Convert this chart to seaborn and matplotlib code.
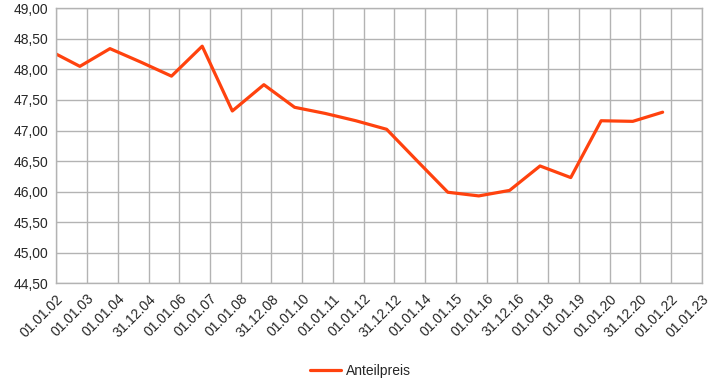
import pandas as pd
import numpy as np
import seaborn as sns
import matplotlib.pyplot as plt
import matplotlib.dates as mdates
from matplotlib.ticker import FuncFormatter

# data
dates = ['2002-01-01', '2002-10-08', '2003-10-01', '2004-10-01', '2005-10-01',
         '2006-10-01', '2007-09-24', '2008-10-03', '2009-10-03', '2010-10-01',
         '2011-10-01', '2012-10-01', '2013-10-01', '2014-09-28', '2015-10-01',
         '2016-10-01', '2017-09-28', '2018-09-28', '2019-09-24', '2020-10-04',
         '2021-09-24']
prices = [48.25, 48.05, 48.34, 48.12, 47.89, 48.38, 47.32, 47.75, 47.38, 47.28,
          47.16, 47.02, 46.50, 45.99, 45.93, 46.02, 46.42, 46.23, 47.16, 47.15,
          47.30]
tick_labels = ['01.01.02', '01.01.03', '01.01.04', '31.12.04', '01.01.06', '01.01.07',
               '01.01.08', '31.12.08', '01.01.10', '01.01.11', '01.01.12', '31.12.12',
               '01.01.14', '01.01.15', '01.01.16', '31.12.16', '01.01.18', '01.01.19',
               '01.01.20', '31.12.20', '01.01.22', '01.01.23']

df = pd.DataFrame({'Datum': pd.to_datetime(dates), 'Anteilpreis': prices})

sns.set_style('white')
plt.rcParams['font.family'] = ['Liberation Sans', 'DejaVu Sans']

fig = plt.figure(figsize=(7.21, 3.83), dpi=100)
ax = fig.add_axes([56.3 / 721, 1 - 283.3 / 383, (701.7 - 56.3) / 721, (283.3 - 8.3) / 383])

sns.lineplot(data=df, x='Datum', y='Anteilpreis', ax=ax, color='#ff420e',
             linewidth=2.3, label='Anteilpreis')

# date axis with 365.25 day steps like the original
start = mdates.date2num(pd.Timestamp('2002-01-01'))
ticks = start + np.arange(len(tick_labels)) * 365.25
ax.set_xticks(ticks)
ax.set_xticklabels(tick_labels, rotation=45, ha='right', rotation_mode='anchor', fontsize=10)
ax.set_xlim(ticks[0], ticks[-1])

ax.set_ylim(44.5, 49.0)
ax.set_yticks(np.arange(44.5, 49.01, 0.5))
ax.yaxis.set_major_formatter(FuncFormatter(lambda v, p: f"{v:.2f}".replace('.', ',')))
ax.tick_params(axis='y', labelsize=10)

ax.grid(True, color='#b3b3b3', linewidth=1)
for s in ax.spines.values():
    s.set_color('#b3b3b3')
    s.set_linewidth(1)
ax.tick_params(axis='both', length=4, color='#b3b3b3', direction='out', pad=2)
ax.set_xlabel('')
ax.set_ylabel('')

# legend centred on the whole figure, at the bottom
ax.legend(loc='center', bbox_to_anchor=(0.5, 1 - 371 / 383), bbox_transform=fig.transFigure,
          frameon=False, fontsize=10, handlelength=2.2, handletextpad=0.4)

fig.savefig('out.png', dpi=100)
